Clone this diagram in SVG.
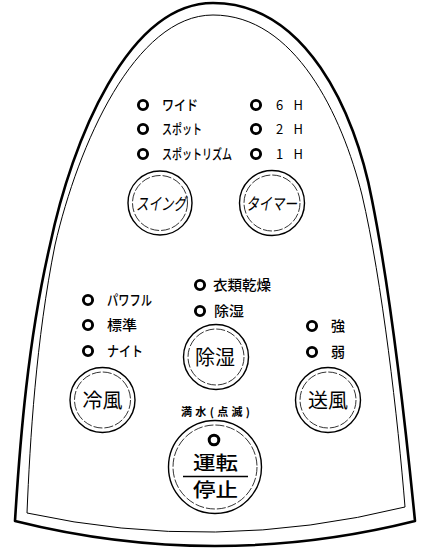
<svg xmlns="http://www.w3.org/2000/svg" width="426" height="551" viewBox="0 0 426 551">
<style>
text{font-family:"Noto Sans CJK JP","Noto Sans",sans-serif;fill:#000}
.lbl{font-size:14px;font-weight:500}
.kj{font-size:14px;font-weight:500}
.num{font-size:13px}
.big{font-size:20px;text-anchor:middle}
.kb{font-size:17px;font-style:italic}
.led{fill:none;stroke:#000;stroke-width:2.9}
.bo{fill:#fff;stroke:#000;stroke-width:1.4}
.bi{fill:none;stroke:#000;stroke-width:0.8;stroke-dasharray:9 2}
.run{font-size:19px;font-weight:500}
</style>
<g id="panel">
<path d="M15,521 C20,440 28,340 50,245 C72,140 128,3 213,3 C305,3 355,110 372,200 C391,295 405,420 415,521 Q215,571 15,521 Z" fill="#fff" stroke="#000" stroke-width="2.6" stroke-linejoin="round"/>
<path d="M27,513 C30,440 36,340 55,245 C78,145 135,15 213,15 C295,15 342,115 362,195 C382,280 398,420 405,507 Q215,554 27,513 Z" fill="none" stroke="#000" stroke-width="1"/>
</g>
<g id="led-wide"><circle class="led" cx="143" cy="105" r="4.6"/><text class="lbl" x="162" y="110" textLength="36" lengthAdjust="spacingAndGlyphs">ワイド</text></g>
<g id="led-spot"><circle class="led" cx="143" cy="129" r="4.6"/><text class="lbl" x="162" y="134" textLength="40" lengthAdjust="spacingAndGlyphs">スポット</text></g>
<g id="led-spotrhythm"><circle class="led" cx="143" cy="154" r="4.6"/><text class="lbl" x="162" y="159" textLength="70" lengthAdjust="spacingAndGlyphs">スポットリズム</text></g>
<g id="led-6h"><circle class="led" cx="256" cy="105" r="4.6"/><text class="num" x="276" y="110" textLength="27" lengthAdjust="spacing">6 H</text></g>
<g id="led-2h"><circle class="led" cx="256" cy="129" r="4.6"/><text class="num" x="276" y="134" textLength="27" lengthAdjust="spacing">2 H</text></g>
<g id="led-1h"><circle class="led" cx="256" cy="154" r="4.6"/><text class="num" x="276" y="159" textLength="27" lengthAdjust="spacing">1 H</text></g>
<g id="btn-swing"><circle class="bo" cx="160" cy="203" r="32"/><circle class="bi" cx="160" cy="203" r="27.5"/><text class="kb" x="136" y="210" textLength="50" lengthAdjust="spacingAndGlyphs">スイング</text></g>
<g id="btn-timer"><circle class="bo" cx="272" cy="203" r="32.5"/><circle class="bi" cx="272" cy="203" r="28"/><text class="kb" x="246" y="210" textLength="51" lengthAdjust="spacingAndGlyphs">タイマー</text></g>
<g id="led-clothes"><circle class="led" cx="200" cy="285" r="4.6"/><text class="kj" x="213" y="290" textLength="58" lengthAdjust="spacingAndGlyphs">衣類乾燥</text></g>
<g id="led-dehum"><circle class="led" cx="200" cy="311" r="4.6"/><text class="kj" x="214" y="316" textLength="30" lengthAdjust="spacingAndGlyphs">除湿</text></g>
<g id="led-powerful"><circle class="led" cx="88" cy="300" r="4.6"/><text class="lbl" x="107" y="305" textLength="45" lengthAdjust="spacingAndGlyphs">パワフル</text></g>
<g id="led-standard"><circle class="led" cx="88" cy="325" r="4.6"/><text class="kj" x="107" y="330" textLength="30" lengthAdjust="spacingAndGlyphs">標準</text></g>
<g id="led-night"><circle class="led" cx="88" cy="351" r="4.6"/><text class="lbl" x="107" y="356" textLength="36" lengthAdjust="spacingAndGlyphs">ナイト</text></g>
<g id="led-strong"><circle class="led" cx="312" cy="326" r="4.6"/><text class="kj" x="331" y="331">強</text></g>
<g id="led-weak"><circle class="led" cx="312" cy="352" r="4.6"/><text class="kj" x="331" y="357">弱</text></g>
<g id="btn-dehum"><circle class="bo" cx="216" cy="357" r="32.5"/><circle class="bi" cx="216" cy="357" r="28"/><text class="big" x="215" y="364.5">除湿</text></g>
<g id="btn-cool"><circle class="bo" cx="102.5" cy="400" r="32.5"/><circle class="bi" cx="102.5" cy="400" r="28"/><text class="big" x="102.5" y="408">冷風</text></g>
<g id="btn-fan"><circle class="bo" cx="328" cy="400" r="32.5"/><circle class="bi" cx="328" cy="400" r="28"/><text class="big" x="328" y="408">送風</text></g>
<g id="label-full"><text x="181" y="416" style="font-size:11px;font-weight:bold" textLength="69" lengthAdjust="spacing">満水(点滅)</text></g>
<g id="btn-run">
<circle class="bo" cx="215" cy="467" r="46.5"/><circle class="bi" cx="215" cy="467" r="42"/>
<circle class="led" cx="214" cy="440" r="4.8" style="stroke-width:3"/>
<line x1="183" y1="476.5" x2="248" y2="476.5" stroke="#000" stroke-width="1.6"/>
<text class="run" x="193" y="469.8" textLength="45" lengthAdjust="spacingAndGlyphs">運転</text>
<text class="run" x="193" y="496.8" textLength="45" lengthAdjust="spacingAndGlyphs">停止</text>
</g>
</svg>
